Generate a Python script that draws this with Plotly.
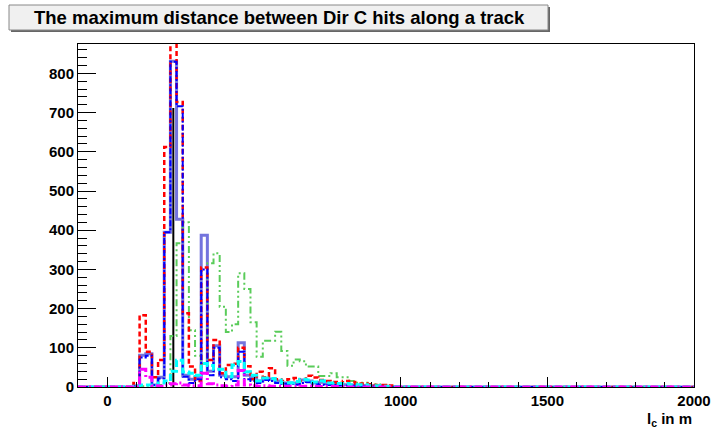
import plotly.graph_objects as go

# Histogram binning: 100 bins from -100 to 2000 (width 21)
x_min, x_max, n_bins = -100, 2000, 100
first_bin = 8  # values below start at bin index 8

blue_solid = [0, 3, 81, 85, 5, 25, 395, 831, 428, 30, 20, 25, 387, 40, 105, 30, 26, 26, 113, 30,
              25, 15, 22, 20, 15, 10, 10, 10, 18, 15, 10, 12, 8, 8, 6, 6, 5, 4, 4, 3, 3, 2, 1, 1]
blue_dashdot = [0, 2, 75, 80, 5, 22, 395, 830, 716, 26, 10, 20, 300, 30, 100, 25, 20, 15, 90, 20,
                15, 10, 18, 15, 10, 8, 8, 6, 10, 12, 8, 6, 5, 5, 4, 4, 3, 3, 2, 2, 1, 1, 1, 0]
red_dashed = [0, 10, 183, 90, 25, 69, 612, 900, 727, 188, 52, 15, 305, 69, 120, 35, 56, 59, 100, 53,
              20, 39, 25, 48, 20, 15, 20, 23, 15, 29, 24, 18, 15, 13, 10, 15, 13, 8, 9, 7, 5, 5, 4, 2]
green_dots = [0, 0, 2, 3, 2, 5, 10, 130, 367, 420, 145, 80, 60, 316, 341, 205, 140, 160, 290, 250,
              165, 77, 118, 118, 141, 92, 54, 70, 66, 52, 52, 28, 28, 35, 25, 25, 15, 11, 11, 7, 7, 4, 3, 2]
cyan_dashed = [0, 2, 5, 5, 3, 10, 15, 40, 68, 38, 35, 30, 60, 55, 45, 45, 26, 56, 65, 39,
               30, 15, 23, 22, 18, 11, 11, 14, 20, 18, 13, 16, 10, 10, 9, 9, 6, 6, 6, 3, 3, 2, 1, 1]
magenta_dashdot = [0, 0, 45, 25, 3, 2, 5, 8, 10, 5, 3, 3, 35, 8, 5, 3, 2, 5, 42, 5,
                   3, 2, 3, 2, 2, 1, 1, 1, 2, 2, 1, 1, 1, 1, 1, 0, 0, 0, 0, 0, 0, 0, 0, 0]
black_x = [225, 225]
black_y = [0, 712]

x_ticks = [0, 500, 1000, 1500, 2000]
y_ticks = [0, 100, 200, 300, 400, 500, 600, 700, 800]

width = (x_max - x_min) / n_bins
edges = [x_min + i * width for i in range(n_bins + 1)]


def full(vals):
    v = [0] * n_bins
    for i, val in enumerate(vals):
        v[first_bin + i] = val
    return v


def step_trace(vals, color, w, dash):
    v = full(vals)
    return go.Scatter(x=edges, y=v + [v[-1]], mode="lines", line_shape="hv",
                      line=dict(color=color, width=w, dash=dash), hoverinfo="skip")


fig = go.Figure()
fig.add_trace(step_trace(blue_solid, "rgba(70,70,210,0.75)", 3, "solid"))
fig.add_trace(go.Scatter(x=black_x, y=black_y, mode="lines", line=dict(color="black", width=2)))
fig.add_trace(step_trace(green_dots, "#5acc5a", 2, "7px,3px,2px,3px,2px,3px"))
fig.add_trace(step_trace(red_dashed, "#ff0000", 2.5, "5px,3px"))
fig.add_trace(step_trace(blue_dashdot, "#0000ff", 2, "6px,2px,2px,2px"))
fig.add_trace(step_trace(cyan_dashed, "#00ffff", 3, "7px,3px"))
fig.add_trace(step_trace(magenta_dashdot, "#ff00ff", 3, "8px,3px,2px,3px"))

font_family = "Liberation Sans, Arial, Helvetica, sans-serif"

fig.update_layout(
    width=711, height=433,
    margin=dict(l=78, r=17, t=44, b=46, autoexpand=False),
    plot_bgcolor="white", paper_bgcolor="white",
    showlegend=False,
    font=dict(family=font_family, color="black"),
)
fig.update_xaxes(
    range=[x_min, x_max], showgrid=False, zeroline=False, automargin=False,
    showline=True, linecolor="black", linewidth=1, mirror=True,
    ticks="inside", ticklen=10, tickwidth=1, tickcolor="black",
    tickvals=x_ticks, ticktext=[str(t) for t in x_ticks],
    tickfont=dict(size=15, family=font_family, weight="bold"),
    minor=dict(ticks="inside", ticklen=5, tickwidth=1, tickcolor="black", dtick=100, tick0=0),
)
fig.update_yaxes(
    range=[0, 875], showgrid=False, zeroline=False, automargin=False,
    showline=True, linecolor="black", linewidth=1, mirror=True,
    ticks="inside", ticklen=18, tickwidth=1, tickcolor="black",
    tickvals=y_ticks, ticktext=[str(t) for t in y_ticks],
    tickfont=dict(size=15, family=font_family, weight="bold"),
    minor=dict(ticks="inside", ticklen=9, tickwidth=1, tickcolor="black", dtick=20, tick0=0),
)

# Title box with shadow
fig.add_shape(type="rect", xref="paper", yref="paper",
              x0=(11 - 78) / 616, x1=(550 - 78) / 616,
              y0=(387 - 32) / 343, y1=(387 - 7) / 343,
              fillcolor="#666666", line=dict(width=0), layer="above")
fig.add_shape(type="rect", xref="paper", yref="paper",
              x0=(9 - 78) / 616, x1=(548 - 78) / 616,
              y0=(387 - 30) / 343, y1=(387 - 5) / 343,
              fillcolor="#f0f0f0", line=dict(color="#888888", width=1), layer="above")
fig.add_annotation(text="<b>The maximum distance between Dir C hits along a track</b>",
                   xref="paper", yref="paper",
                   x=(279 - 78) / 616, y=(387 - 17.5) / 343,
                   xanchor="center", yanchor="middle", showarrow=False,
                   font=dict(size=18.5, family=font_family, color="black"))
fig.add_annotation(text="<b>l<sub>c</sub> in m</b>",
                   xref="paper", yref="paper", x=1, y=(387 - 420) / 343,
                   xanchor="right", yanchor="middle", showarrow=False,
                   font=dict(size=15, family=font_family, color="black"))

fig.write_html("out.html")
